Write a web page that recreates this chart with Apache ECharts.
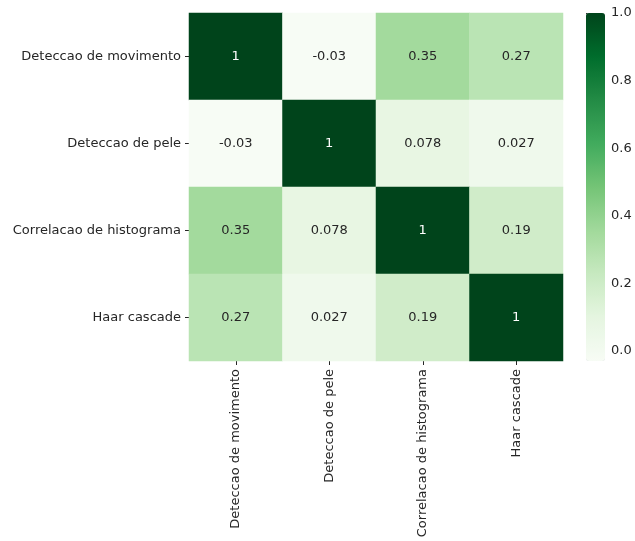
<!DOCTYPE html>
<html>
<head>
<meta charset="utf-8">
<script src="https://cdn.jsdelivr.net/npm/echarts@6/dist/echarts.min.js"></script>
<style>html,body{margin:0;padding:0;background:#fff}#c{width:635px;height:541px}</style>
</head>
<body>
<div id="c"></div>
<script>
const categories = ['Deteccao de movimento', 'Deteccao de pele', 'Correlacao de histograma', 'Haar cascade'];
const rowMovimento = [1, -0.03, 0.35, 0.27];
const rowPele = [-0.03, 1, 0.078, 0.027];
const rowHistograma = [0.35, 0.078, 1, 0.19];
const rowHaar = [0.27, 0.027, 0.19, 1];
const colorbarTicks = [0, 0.2, 0.4, 0.6, 0.8, 1.0];
const rows = [rowMovimento, rowPele, rowHistograma, rowHaar];

const greens = ['#f7fcf5','#e5f5e0','#c7e9c0','#a1d99b','#74c476','#41ab5d','#238b45','#006d2c','#00441b'];
const font = 'DejaVu Sans';
const data = [];
rows.forEach((r, yi) => r.forEach((v, xi) => {
  data.push({value: [xi, yi, v], label: {color: v > 0.6 ? '#ffffff' : '#262626'}});
}));

const chart = echarts.init(document.getElementById('c'));
chart.setOption({
  animation: false,
  backgroundColor: '#fff',
  grid: [
    {left: 189, right: 72, top: 13, bottom: 180},
    {left: 586, width: 19, top: 13, height: 338}
  ],
  xAxis: [
    {type: 'category', data: categories, gridIndex: 0,
     axisLine: {show: false}, splitLine: {show: false},
     axisTick: {show: true, alignWithLabel: true, length: 4, lineStyle: {color: '#262626'}},
     axisLabel: {rotate: 90, margin: 8, color: '#262626', fontFamily: font, fontSize: 13}},
    {type: 'value', gridIndex: 1, show: false}
  ],
  yAxis: [
    {type: 'category', data: categories, inverse: true, gridIndex: 0,
     axisLine: {show: false}, splitLine: {show: false},
     axisTick: {show: true, alignWithLabel: true, length: 4, lineStyle: {color: '#262626'}},
     axisLabel: {margin: 8, color: '#262626', fontFamily: font, fontSize: 13}},
    {type: 'value', gridIndex: 1, position: 'right', min: 0, max: 1, interval: 0.2,
     axisLine: {show: false}, splitLine: {show: false},
     axisTick: {show: true, length: 4, lineStyle: {color: '#262626'}},
     axisLabel: {margin: 6, color: '#262626', fontFamily: font, fontSize: 13,
                 formatter: v => v.toFixed(1)}}
  ],
  visualMap: {
    type: 'continuous', min: -0.03, max: 1, calculable: false, seriesIndex: 0,
    orient: 'vertical', left: 586, top: 13, itemWidth: 19, itemHeight: 348,
    padding: 0, text: null, showLabel: false,
    inRange: {color: greens}
  },
  series: [{
    type: 'heatmap', xAxisIndex: 0, yAxisIndex: 0, data: data,
    label: {show: true, fontFamily: font, fontSize: 13,
            formatter: p => String(p.value[2])},
    itemStyle: {borderWidth: 0}
  }]
});
</script>
</body>
</html>
